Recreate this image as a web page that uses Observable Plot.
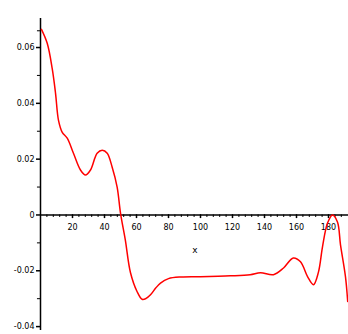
<!DOCTYPE html>
<html>
<head>
<meta charset="utf-8">
<script src="https://cdn.jsdelivr.net/npm/d3@7"></script>
<script src="https://cdn.jsdelivr.net/npm/@observablehq/plot@0.6"></script>
<style>
  html, body { margin: 0; padding: 0; background: #fff; }
  #chart svg { display: block; }
</style>
</head>
<body>
<div id="chart"></div>
<script>
const xs = [0.6, 4.2, 7.3, 9.4, 11.25, 13.6, 16.7, 20.6, 25, 28.1, 31.25, 35.4, 38.6, 41.7, 44.8, 47.9, 50, 53, 56.25, 60.4, 63.5, 66, 68.75, 72, 75, 80, 88, 100, 118.75, 131, 137.5, 145.6, 151.9, 158, 162.5, 166.9, 170.6, 173.75, 176.25, 179.4, 182.5, 185.6, 187.5, 190.6, 192];
const ys = [0.0665, 0.0615, 0.0525, 0.0436, 0.0339, 0.0296, 0.0275, 0.0221, 0.0161, 0.0143, 0.0161, 0.0221, 0.0232, 0.0221, 0.0171, 0.01, 0.0007, -0.0089, -0.0207, -0.0275, -0.0302, -0.0299, -0.0286, -0.0262, -0.0244, -0.0228, -0.0222, -0.0221, -0.0218, -0.0214, -0.0207, -0.0214, -0.019, -0.0154, -0.0168, -0.0221, -0.025, -0.0204, -0.0114, -0.0029, 0, -0.0025, -0.0107, -0.0221, -0.031];
const xTickValues = [20, 40, 60, 80, 100, 120, 140, 160, 180];
const xMinorTicks = d3.range(4, 192, 4);
const yTickValues = [0.06, 0.04, 0.02, 0, -0.02, -0.04];
const yTickLabels = ["0.06", "0.04", "0.02", "0", "-0.02", "-0.04"];
const yMinorTicks = [0.066, 0.05, 0.03, 0.01, -0.01, -0.03];
const axisLabel = "x";

const data = xs.map((x, i) => ({x, y: ys[i]}));

const chart = Plot.plot({
  width: 348,
  height: 334,
  marginLeft: 40,
  marginRight: 0,
  marginTop: 18,
  marginBottom: 4,
  style: {fontFamily: "DejaVu Sans", fontSize: "8px", background: "#fff"},
  x: {type: "linear", domain: [0, 192.5], axis: null},
  y: {type: "linear", domain: [-0.0414, 0.0704], axis: null},
  marks: [
    Plot.ruleX([0], {x: d => d, stroke: "black", strokeWidth: 1.5}),
    Plot.ruleY([0], {y: d => d, stroke: "black", strokeWidth: 1.5}),
    Plot.ruleX(xMinorTicks, {x: d => d, y1: () => 0, y2: () => -0.0009, stroke: "black"}),
    Plot.ruleX(xTickValues, {x: d => d, y1: () => 0, y2: () => -0.0013, stroke: "black", strokeWidth: 1.5}),
    Plot.text(xTickValues, {x: d => d, y: () => 0, dy: 12, text: d => String(d), fill: "black", fontSize: 8}),
    Plot.ruleY(yMinorTicks, {y: d => d, x1: () => -1.9, x2: () => 0, stroke: "black"}),
    Plot.ruleY(yTickValues, {y: d => d, x1: () => -2.5, x2: () => 0, stroke: "black", strokeWidth: 1.5}),
    Plot.text(yTickValues, {x: () => 0, y: d => d, dx: -6, textAnchor: "end", text: (d, i) => yTickLabels[i], fill: "black", fontSize: 8}),
    Plot.text([axisLabel], {x: () => 96.5, y: () => -0.0125, text: d => d, fill: "black", fontSize: 9}),
    Plot.line(data, {x: "x", y: "y", stroke: "#ff0000", strokeWidth: 1.5, curve: "catmull-rom"})
  ]
});
document.getElementById("chart").appendChild(chart);
</script>
</body>
</html>
